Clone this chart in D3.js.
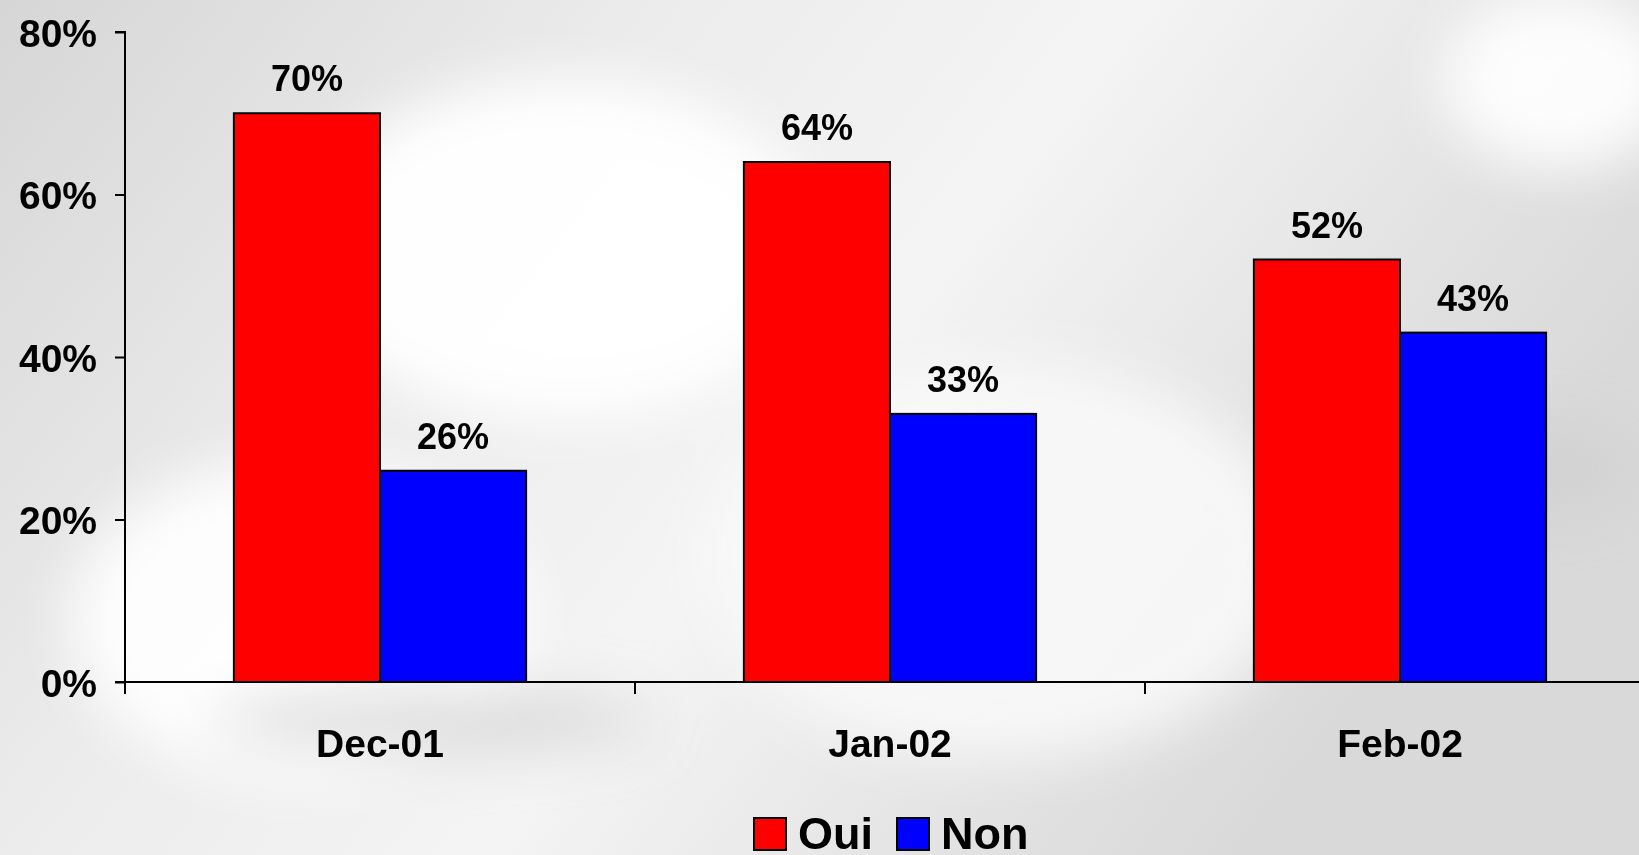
<!DOCTYPE html>
<head>
  <title>Oui / Non</title>
  <meta charset="UTF-8" />
  <style>
    html, body { margin: 0; padding: 0; overflow: hidden; }
    svg { display: block; }
    text { font-family: "Liberation Sans", Arial, sans-serif; font-weight: bold; fill: #000; }
  </style>
</head>
<body>
  <svg width="1639" height="855"></svg>
</body>

<script src="https://cdn.jsdelivr.net/npm/d3@7"></script>
<script>
  // chart data
  const months = ["Dec-01", "Jan-02", "Feb-02"];
  const series = ["Oui", "Non"];
  const ouiValues = [70, 64, 52];
  const nonValues = [26, 33, 43];
  const yTicks = [0, 20, 40, 60, 80];
  const colors = ["#ff0000", "#0000ff"];

  const svg = d3.select("svg");
  const W = 1639, H = 855;

  // background: soft grey swirls
  const defs = svg.append("defs");
  const bg = defs.append("linearGradient").attr("id", "bg")
    .attr("x1", 0).attr("y1", 0).attr("x2", 1).attr("y2", 0.4);
  bg.append("stop").attr("offset", "0%").attr("stop-color", "#d6d6d6");
  bg.append("stop").attr("offset", "35%").attr("stop-color", "#ececec");
  bg.append("stop").attr("offset", "60%").attr("stop-color", "#f4f4f4");
  bg.append("stop").attr("offset", "85%").attr("stop-color", "#e2e2e2");
  bg.append("stop").attr("offset", "100%").attr("stop-color", "#d9d9d9");
  defs.append("filter").attr("id", "blur").append("feGaussianBlur").attr("stdDeviation", 28);

  svg.append("rect").attr("width", W).attr("height", H).attr("fill", "url(#bg)");
  const swirl = svg.append("g").attr("filter", "url(#blur)");
  swirl.append("ellipse").attr("cx", 560).attr("cy", 250).attr("rx", 260).attr("ry", 170)
    .attr("fill", "#ffffff").attr("opacity", 0.95);
  swirl.append("ellipse").attr("cx", 300).attr("cy", 620).attr("rx", 230).attr("ry", 160)
    .attr("fill", "#ffffff").attr("opacity", 0.9);
  swirl.append("ellipse").attr("cx", 1000).attr("cy", 560).attr("rx", 300).attr("ry", 200)
    .attr("fill", "#f8f8f8").attr("opacity", 0.9);
  swirl.append("ellipse").attr("cx", 1560).attr("cy", 80).attr("rx", 120).attr("ry", 90)
    .attr("fill", "#ffffff").attr("opacity", 0.9);
  swirl.append("ellipse").attr("cx", 430).attr("cy", 720).attr("rx", 220).attr("ry", 30)
    .attr("fill", "#cfcfcf").attr("opacity", 0.7);
  swirl.append("ellipse").attr("cx", 1530).attr("cy", 470).attr("rx", 110).attr("ry", 40)
    .attr("fill", "#cdcdcd").attr("opacity", 0.6);

  // scales
  const x0 = 125, y0 = 682, y80 = 32;
  const step = 510;
  const x = d3.scaleBand()
    .domain(months)
    .range([x0, x0 + step * months.length])
    .paddingInner(0.427)
    .paddingOuter(0.2135);
  const xs = d3.scaleBand().domain(series).range([0, x.bandwidth()]);
  const y = d3.scaleLinear().domain([0, 80]).range([y0, y80]);

  const data = months.map((m, i) => ({ month: m, values: [ouiValues[i], nonValues[i]] }));

  // bars
  const groups = svg.append("g").selectAll("g").data(data).join("g")
    .attr("transform", d => `translate(${x(d.month)},0)`);
  groups.selectAll("rect").data(d => d.values.map((v, j) => ({ key: series[j], v, j })))
    .join("rect")
    .attr("x", d => xs(d.key))
    .attr("y", d => y(d.v))
    .attr("width", xs.bandwidth())
    .attr("height", d => y0 - y(d.v))
    .attr("fill", d => colors[d.j])
    .attr("stroke", "#000")
    .attr("stroke-width", 2);
  groups.selectAll("text").data(d => d.values.map((v, j) => ({ key: series[j], v })))
    .join("text")
    .attr("x", d => xs(d.key) + xs.bandwidth() / 2)
    .attr("y", d => y(d.v) - 22)
    .attr("text-anchor", "middle")
    .attr("font-size", 36)
    .text(d => d.v + "%");

  // y axis
  const yAxis = svg.append("g")
    .attr("transform", `translate(${x0},0)`)
    .call(d3.axisLeft(y).tickValues(yTicks).tickSize(10).tickPadding(18).tickFormat(d => d + "%"));
  yAxis.select(".domain").attr("d", `M-10,${y80}H0V${y0}H-10`).attr("stroke-width", 2);
  yAxis.selectAll(".tick line").attr("stroke-width", 2);
  yAxis.selectAll(".tick text")
    .attr("font-size", 39)
    .attr("font-family", "'Liberation Sans', Arial, sans-serif")
    .attr("font-weight", "bold")
    .attr("fill", "#000")
    .attr("dy", "0.37em");

  // x axis: ticks at category boundaries
  svg.append("line")
    .attr("x1", x0).attr("x2", W).attr("y1", y0).attr("y2", y0)
    .attr("stroke", "#000").attr("stroke-width", 2);
  svg.append("g").selectAll("line").data(months).join("line")
    .attr("x1", d => x(d) - x.step() * 0.427 / 2)
    .attr("x2", d => x(d) - x.step() * 0.427 / 2)
    .attr("y1", y0).attr("y2", y0 + 12)
    .attr("stroke", "#000").attr("stroke-width", 2);
  svg.append("g").selectAll("text").data(months).join("text")
    .attr("x", d => x(d) + x.bandwidth() / 2)
    .attr("y", 757)
    .attr("text-anchor", "middle")
    .attr("font-size", 39)
    .text(d => d);

  // legend
  const legendX = [754, 897];
  const legend = svg.append("g").selectAll("g").data(series).join("g")
    .attr("transform", (d, i) => `translate(${legendX[i]},818)`);
  legend.append("rect")
    .attr("width", 32).attr("height", 32)
    .attr("fill", (d, i) => colors[i])
    .attr("stroke", "#000").attr("stroke-width", 2);
  legend.append("text")
    .attr("x", 44).attr("y", 31)
    .attr("font-size", 45)
    .text(d => d);
</script>
